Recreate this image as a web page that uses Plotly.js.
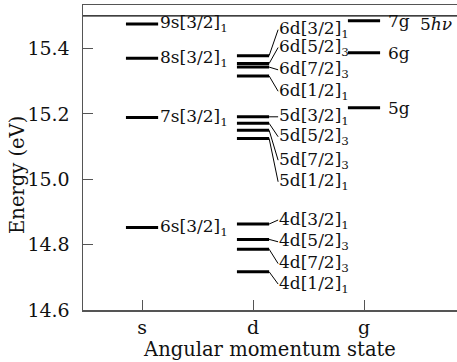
<!DOCTYPE html>
<html><head><meta charset="utf-8">
<script src="https://cdn.plot.ly/plotly-3.0.1.min.js"></script>
<style>html,body{margin:0;padding:0;background:#fff}#chart{width:457px;height:362px}</style>
</head><body><div id="chart"></div>
<script>
// ---- data ----
const stateCategories = ['s', 'd', 'g'];
const statePositions = [1, 2, 3];

const sLevelNames = ['9s[3/2]<sub>1</sub>', '8s[3/2]<sub>1</sub>', '7s[3/2]<sub>1</sub>', '6s[3/2]<sub>1</sub>'];
const sLevelEnergies = [15.475, 15.370, 15.189, 14.852];

const dLevelNames = ['6d[3/2]<sub>1</sub>', '6d[5/2]<sub>3</sub>', '6d[7/2]<sub>3</sub>', '6d[1/2]<sub>1</sub>',
                     '5d[3/2]<sub>1</sub>', '5d[5/2]<sub>3</sub>', '5d[7/2]<sub>3</sub>', '5d[1/2]<sub>1</sub>',
                     '4d[3/2]<sub>1</sub>', '4d[5/2]<sub>3</sub>', '4d[7/2]<sub>3</sub>', '4d[1/2]<sub>1</sub>'];
const dLevelEnergies = [15.378, 15.354, 15.343, 15.316,
                        15.191, 15.171, 15.150, 15.125,
                        14.863, 14.816, 14.786, 14.717];

const gLevelNames = ['7g', '6g', '5g'];
const gLevelEnergies = [15.485, 15.387, 15.219];

const photonLabel = '5<i>hν</i>';
const photonEnergy = 15.5;

const yTickValues = [14.6, 14.8, 15.0, 15.2, 15.4];

// ---- layout settings (label placement, pixels; positive = downward) ----
const dLabelDrop = [-26, -16, 2.7, 15.3, 0, 13.4, 30, 43.4, -4, 2.4, 14.4, 12.3];
const levelHalfWidth = 0.145;
const FONT = '"DejaVu Serif", "Liberation Serif", serif';
const INK = '#111';

function levelTrace(center, energies) {
  const xs = [], ys = [];
  energies.forEach(e => { xs.push(center - levelHalfWidth, center + levelHalfWidth, null); ys.push(e, e, null); });
  return {x: xs, y: ys, mode: 'lines', type: 'scatter', line: {color: '#000', width: 3}, hoverinfo: 'skip', showlegend: false};
}

const traces = [
  levelTrace(statePositions[0], sLevelEnergies),
  levelTrace(statePositions[1], dLevelEnergies),
  levelTrace(statePositions[2], gLevelEnergies)
];

const annotations = [];
const shapes = [];

sLevelNames.forEach((t, i) => annotations.push({
  x: statePositions[0] + levelHalfWidth, y: sLevelEnergies[i], xref: 'x', yref: 'y',
  text: t, showarrow: false, xanchor: 'left', yanchor: 'middle', xshift: 0,
  font: {family: FONT, size: 17, color: INK}
}));

dLevelNames.forEach((t, i) => {
  annotations.push({
    x: statePositions[1] + levelHalfWidth, y: dLevelEnergies[i], xref: 'x', yref: 'y',
    text: t, showarrow: false, xanchor: 'left', yanchor: 'middle', xshift: 8, yshift: -dLabelDrop[i],
    font: {family: FONT, size: 17, color: INK}
  });
  shapes.push({
    type: 'line', xref: 'x', yref: 'y', xsizemode: 'pixel', ysizemode: 'pixel',
    xanchor: statePositions[1] + levelHalfWidth, yanchor: dLevelEnergies[i],
    x0: 0, y0: 0, x1: 9, y1: -dLabelDrop[i],
    line: {color: '#000', width: 1}
  });
});

gLevelNames.forEach((t, i) => annotations.push({
  x: statePositions[2] + levelHalfWidth, y: gLevelEnergies[i], xref: 'x', yref: 'y',
  text: t, showarrow: false, xanchor: 'left', yanchor: 'middle', xshift: 6,
  font: {family: FONT, size: 17, color: INK}
}));

shapes.push({type: 'line', xref: 'paper', yref: 'y', x0: 0, x1: 1, y0: photonEnergy, y1: photonEnergy,
  line: {color: '#000', width: 1.3}});
annotations.push({x: 1, y: photonEnergy, xref: 'paper', yref: 'y', text: photonLabel, showarrow: false,
  xanchor: 'right', yanchor: 'top', xshift: -3, yshift: 4, font: {family: FONT, size: 17, color: INK}});

annotations.push({x: 0, y: 0.443, xref: 'paper', yref: 'paper', text: 'Energy (eV)', textangle: -90,
  showarrow: false, xanchor: 'center', yanchor: 'middle', xshift: -65, font: {family: FONT, size: 19.5, color: INK}});

const layout = {
  width: 457, height: 362,
  margin: {l: 83, r: 0, t: 5, b: 52},
  paper_bgcolor: '#fff', plot_bgcolor: '#fff',
  font: {family: FONT, color: INK, size: 19},
  showlegend: false,
  xaxis: {
    range: [0.468, 3.838], tickvals: statePositions, ticktext: stateCategories,
    ticks: 'inside', ticklen: 10, tickwidth: 1, tickcolor: '#555',
    showline: true, linecolor: '#555', linewidth: 1.5, mirror: true,
    showgrid: false, zeroline: false, fixedrange: true,
    tickfont: {family: FONT, size: 19, color: INK},
    title: {text: 'Angular momentum state', font: {family: FONT, size: 19.5, color: INK}, standoff: 5}
  },
  yaxis: {
    range: [14.6, 15.533], tickvals: yTickValues, tickformat: '.1f',
    ticks: 'inside', ticklen: 10, tickwidth: 1, tickcolor: '#555',
    showline: true, linecolor: '#555', linewidth: 1.5, mirror: false,
    showgrid: false, zeroline: false, fixedrange: true,
    ticklabelstandoff: 8,
    tickfont: {family: FONT, size: 19, color: INK}
  },
  annotations: annotations,
  shapes: shapes
};

Plotly.newPlot('chart', traces, layout, {displayModeBar: false, staticPlot: true});
</script>
</body></html>
